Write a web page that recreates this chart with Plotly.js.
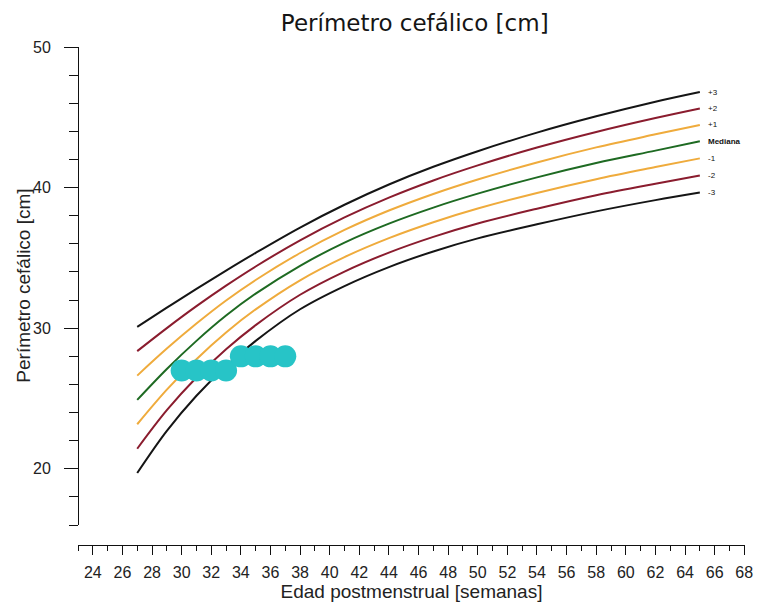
<!DOCTYPE html>
<html>
<head>
<meta charset="utf-8">
<script src="https://cdn.plot.ly/plotly-3.0.1.min.js"></script>
<style>html,body{margin:0;padding:0;background:#fff;}#chart{width:761px;height:605px;}</style>
</head>
<body>
<div id="chart"></div>
<script>
// Weeks (edad postmenstrual) at which the reference curves were read
const weeks = [27, 29, 31, 33, 35, 38, 41, 44, 47, 50, 54, 58, 62, 65];

// Reference curves (cm)
const p3  = [30.10, 31.46, 32.80, 34.10, 35.36, 37.16, 38.78, 40.22, 41.48, 42.59, 43.91, 45.07, 46.11, 46.80];
const p2  = [28.37, 30.01, 31.57, 33.03, 34.39, 36.25, 37.88, 39.29, 40.51, 41.58, 42.85, 43.96, 44.95, 45.63];
const p1  = [26.63, 28.55, 30.33, 31.97, 33.43, 35.35, 36.99, 38.37, 39.55, 40.58, 41.79, 42.86, 43.79, 44.46];
const med = [24.90, 27.10, 29.10, 30.90, 32.46, 34.44, 36.09, 37.44, 38.58, 39.57, 40.73, 41.75, 42.63, 43.29];
const m1  = [23.17, 25.63, 27.80, 29.70, 31.34, 33.41, 35.06, 36.41, 37.54, 38.51, 39.62, 40.60, 41.46, 42.08];
const m2  = [21.43, 24.17, 26.50, 28.50, 30.22, 32.38, 34.03, 35.38, 36.50, 37.45, 38.50, 39.46, 40.28, 40.86];
const m3  = [19.70, 22.70, 25.20, 27.30, 29.10, 31.35, 33.00, 34.35, 35.46, 36.39, 37.39, 38.31, 39.11, 39.65];

// Patient measurements
const ptWeeks = [30, 31, 32, 33, 34, 35, 36, 37];
const ptHC    = [27.0, 27.0, 27.0, 27.0, 28.0, 28.0, 28.0, 28.0];

// Curve labels and tick labels
const curveLabels = ["+3", "+2", "+1", "Mediana", "-1", "-2", "-3"];
const xTickVals = [24,26,28,30,32,34,36,38,40,42,44,46,48,50,52,54,56,58,60,62,64,66,68];
const yTickVals = [20, 30, 40, 50];

const series = [p3, p2, p1, med, m1, m2, m3];
const colors = ["#151515", "#8a1c2e", "#efab3c", "#1e6a22", "#efab3c", "#8a1c2e", "#151515"];

const traces = series.map((s, i) => ({
  x: weeks, y: s, type: "scatter", mode: "lines",
  line: {color: colors[i], width: 2, shape: "spline", smoothing: 1},
  hoverinfo: "skip", showlegend: false
}));

traces.push({
  x: ptWeeks, y: ptHC, type: "scatter", mode: "markers",
  marker: {color: "#27c4c7", size: 22, line: {width: 0}},
  showlegend: false
});

const font = "Liberation Sans, Arial, sans-serif";

const annotations = series.map((s, i) => ({
  x: weeks[weeks.length - 1], y: s[s.length - 1], xref: "x", yref: "y",
  text: curveLabels[i], showarrow: false, xanchor: "left", xshift: 6,
  font: {family: font, size: 8, color: "#111",
         weight: curveLabels[i] === "Mediana" ? "bold" : "normal"}
}));

// y-axis title placed close to the tick labels, as in the reference
annotations.push({
  text: "Perímetro cefálico [cm]", textangle: -90, showarrow: false,
  xref: "paper", yref: "paper", x: -0.083, y: 0.52, xanchor: "center", yanchor: "middle",
  font: {family: font, size: 19, color: "#222"}
});

const layout = {
  width: 761, height: 605,
  margin: {l: 78, r: 16, t: 47, b: 60, pad: 0},
  paper_bgcolor: "#fff", plot_bgcolor: "#fff",
  font: {family: font, size: 16, color: "#222"},
  title: {text: "Perímetro cefálico [cm]", font: {family: "DejaVu Sans, sans-serif", size: 23, color: "#151515"},
          xref: "container", yref: "container", x: 0.545, y: 1 - 23/605, xanchor: "center", yanchor: "middle"},
  xaxis: {
    range: [23, 68.05], anchor: "free", position: 0,
    showgrid: false, zeroline: false, showline: true, linecolor: "#111", linewidth: 1,
    ticks: "outside", ticklen: 9, tickcolor: "#111", tickwidth: 1,
    tickmode: "array", tickvals: xTickVals, ticklabelstandoff: 4,
    minor: {dtick: 1, tick0: 23, ticks: "outside", ticklen: 5, tickcolor: "#111", showgrid: false},
    tickfont: {family: font, size: 16, color: "#222"},
    title: {text: "Edad postmenstrual [semanas]", font: {family: font, size: 19, color: "#222"}, standoff: 2}
  },
  yaxis: {
    range: [16, 50], domain: [0.04, 1], anchor: "free", position: 0,
    showgrid: false, zeroline: false, showline: true, linecolor: "#111", linewidth: 1,
    ticks: "outside", ticklen: 14, tickcolor: "#111", tickwidth: 1,
    tickmode: "array", tickvals: yTickVals, ticklabelstandoff: 10,
    minor: {dtick: 2, tick0: 16, ticks: "outside", ticklen: 9, tickcolor: "#111", showgrid: false},
    tickfont: {family: font, size: 16, color: "#222"}
  },
  annotations: annotations,
  showlegend: false
};

Plotly.newPlot("chart", traces, layout, {displayModeBar: false, staticPlot: true});
</script>
</body>
</html>
